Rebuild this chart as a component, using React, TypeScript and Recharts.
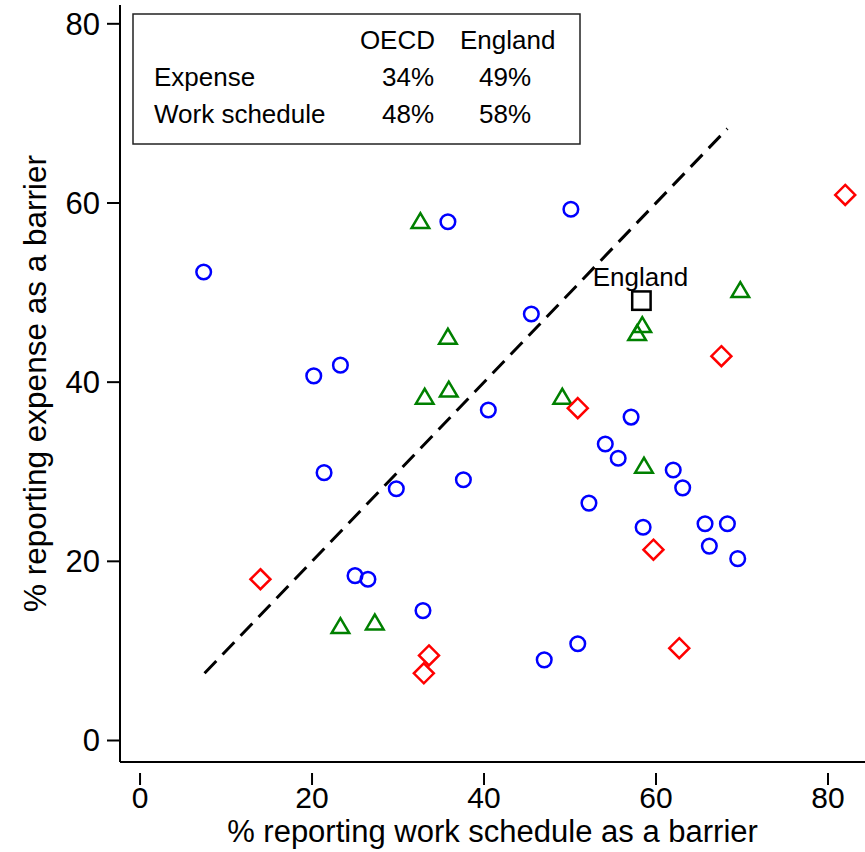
import { ScatterChart, Scatter, XAxis, YAxis, ReferenceLine, Label } from 'recharts';

// OECD countries, grouped by marker
const circleX = [7.4, 35.8, 50.1, 20.2, 23.3, 45.5, 40.5, 21.4, 29.8, 37.6, 25.0, 26.5, 32.9, 47.0, 50.9, 57.1, 54.1, 55.6, 52.2, 58.5, 62.0, 63.1, 65.7, 68.3, 66.2, 69.5];
const circleY = [52.3, 57.9, 59.3, 40.7, 41.9, 47.6, 36.9, 29.9, 28.1, 29.1, 18.4, 18.0, 14.5, 9.0, 10.8, 36.1, 33.1, 31.5, 26.5, 23.8, 30.2, 28.2, 24.2, 24.2, 21.7, 20.3];

const triangleX = [32.6, 35.8, 33.1, 35.9, 49.1, 58.4, 57.8, 69.8, 58.6, 23.3, 27.3];
const triangleY = [57.9, 45.0, 38.3, 39.1, 38.3, 46.3, 45.4, 50.2, 30.6, 12.7, 13.1];

const diamondX = [14.0, 33.6, 33.0, 50.9, 59.7, 62.7, 67.6, 82.0];
const diamondY = [18.0, 9.5, 7.5, 37.1, 21.3, 10.3, 42.9, 60.9];

const englandX = [58.3];
const englandY = [49.1];
const englandNames = ['England'];

// 45 degree reference line
const diagonalEnds = [7.5, 68.3];

const xTicks = [0, 20, 40, 60, 80];
const yTicks = [0, 20, 40, 60, 80];

// summary box
const boxColumns = ['OECD', 'England'];
const boxRows = ['Expense', 'Work schedule'];
const oecdShares = [34, 48];
const englandShares = [49, 58];

const FONT = '"Liberation Sans", Arial, sans-serif';

const zip = (xs: number[], ys: number[]) => xs.map((x, i) => ({ x, y: ys[i] }));

const circleData = zip(circleX, circleY);
const triangleData = zip(triangleX, triangleY);
const diamondData = zip(diamondX, diamondY);
const englandData = englandX.map((x, i) => ({ x, y: englandY[i], name: englandNames[i] }));

const CircleShape = (p: any) => (
  <circle cx={p.cx} cy={p.cy} r={7.3} fill="none" stroke="#0000ff" strokeWidth={2.5} />
);

const TriangleShape = (p: any) => (
  <polygon
    points={`${p.cx - 8.8},${p.cy + 6.3} ${p.cx + 8.8},${p.cy + 6.3} ${p.cx},${p.cy - 8.6}`}
    fill="none"
    stroke="#008000"
    strokeWidth={2.5}
    strokeLinejoin="miter"
  />
);

const DiamondShape = (p: any) => (
  <polygon
    points={`${p.cx},${p.cy - 10} ${p.cx + 10},${p.cy} ${p.cx},${p.cy + 10} ${p.cx - 10},${p.cy}`}
    fill="none"
    stroke="#ff0000"
    strokeWidth={2.5}
  />
);

const EnglandShape = (p: any) => (
  <g>
    <rect x={p.cx - 9.2} y={p.cy - 9.2} width={18.4} height={18.4} fill="none" stroke="#000" strokeWidth={2.5} />
    <text x={p.cx - 1} y={p.cy - 15} textAnchor="middle" fontSize={26} fontFamily={FONT} fill="#000">
      {p.payload.name}
    </text>
  </g>
);

const XTick = ({ x, y, payload }: any) => (
  <g>
    <line x1={x} x2={x} y1={y + 11} y2={y + 23} stroke="#000" strokeWidth={2} />
    <text x={x} y={y + 46} textAnchor="middle" fontSize={30} fontFamily={FONT} fill="#000">
      {payload.value}
    </text>
  </g>
);

const YTick = ({ x, y, payload }: any) => (
  <g>
    <line x1={x - 13} x2={x} y1={y} y2={y} stroke="#000" strokeWidth={2} />
    <text x={x - 20} y={y + 11} textAnchor="end" fontSize={31} fontFamily={FONT} fill="#000">
      {payload.value}
    </text>
  </g>
);

export default function App() {
  return (
    <div style={{ position: 'absolute', left: 0, top: 0, width: 865, height: 852, background: '#fff' }}>
      <ScatterChart width={865} height={852} margin={{ top: 5, right: 0, bottom: 0, left: 0 }}>
        <XAxis
          type="number"
          dataKey="x"
          domain={[-2.33, 84.3]}
          ticks={xTicks}
          allowDataOverflow
          height={90}
          tickSize={0}
          tickMargin={0}
          tickLine={false}
          tick={<XTick />}
          axisLine={{ stroke: '#000', strokeWidth: 2 }}
        >
          <Label
            content={({ viewBox }: any) => (
              <text
                x={viewBox.x + viewBox.width / 2}
                y={viewBox.y + 80}
                textAnchor="middle"
                fontSize={31}
                fontFamily={FONT}
                fill="#000"
              >
                % reporting work schedule as a barrier
              </text>
            )}
          />
        </XAxis>
        <YAxis
          type="number"
          dataKey="y"
          domain={[-2.4, 82.1]}
          ticks={yTicks}
          allowDataOverflow
          width={120}
          tickSize={0}
          tickMargin={0}
          tickLine={false}
          tick={<YTick />}
          axisLine={{ stroke: '#000', strokeWidth: 2 }}
        >
          <Label
            content={({ viewBox }: any) => {
              const cx = 46;
              const cy = viewBox.y + viewBox.height / 2;
              return (
                <text
                  x={cx}
                  y={cy}
                  transform={`rotate(-90 ${cx} ${cy})`}
                  textAnchor="middle"
                  fontSize={31.5}
                  fontFamily={FONT}
                  fill="#000"
                >
                  % reporting expense as a barrier
                </text>
              );
            }}
          />
        </YAxis>
        <ReferenceLine
          segment={[
            { x: diagonalEnds[0], y: diagonalEnds[0] },
            { x: diagonalEnds[1], y: diagonalEnds[1] },
          ]}
          stroke="#000"
          strokeWidth={3}
          strokeDasharray="17 9"
          ifOverflow="visible"
        />
        <Scatter data={circleData} shape={CircleShape} isAnimationActive={false} />
        <Scatter data={triangleData} shape={TriangleShape} isAnimationActive={false} />
        <Scatter data={diamondData} shape={DiamondShape} isAnimationActive={false} />
        <Scatter data={englandData} shape={EnglandShape} isAnimationActive={false} />
      </ScatterChart>
      <svg
        width={865}
        height={852}
        style={{ position: 'absolute', left: 0, top: 0, pointerEvents: 'none' }}
        fontFamily={FONT}
        fontSize={26}
      >
        <rect x={133} y={14} width={447} height={130} fill="#fff" stroke="#222" strokeWidth={1.5} />
        <text x={435} y={49} textAnchor="end">{boxColumns[0]}</text>
        <text x={460} y={49}>{boxColumns[1]}</text>
        {boxRows.map((row, i) => (
          <g key={row}>
            <text x={154} y={86 + i * 37}>{row}</text>
            <text x={434} y={86 + i * 37} textAnchor="end">{oecdShares[i]}%</text>
            <text x={531} y={86 + i * 37} textAnchor="end">{englandShares[i]}%</text>
          </g>
        ))}
      </svg>
    </div>
  );
}
